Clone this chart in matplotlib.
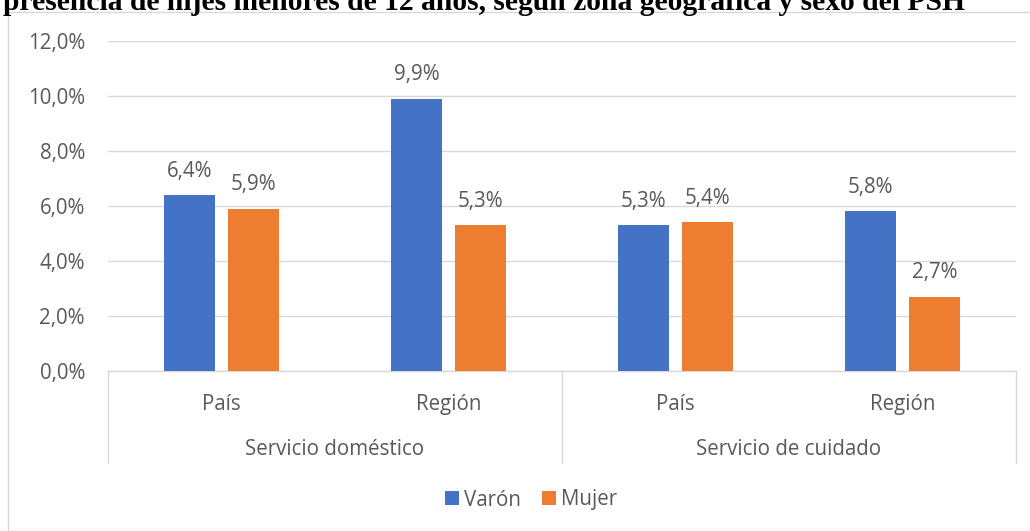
import matplotlib
matplotlib.use('Agg')
import matplotlib.pyplot as plt
import matplotlib.transforms as mtransforms
from matplotlib.patches import Rectangle
from matplotlib.ticker import FuncFormatter

# Datos del gráfico
zonas = ['País', 'Región', 'País', 'Región']
servicios = ['Servicio doméstico', 'Servicio de cuidado']
varon = [6.4, 9.9, 5.3, 5.8]
mujer = [5.9, 5.3, 5.4, 2.7]
titulo = 'presencia de hijes menores de 12 años, según zona geográfica y sexo del PSH'

azul = '#4472C4'
naranja = '#ED7D31'
gris_txt = '#595959'
gris_lin = '#D9D9D9'
fs = 14.8

plt.rcParams['font.family'] = ['Open Sans', 'DejaVu Sans']
W, H = 1030, 531
fig = plt.figure(figsize=(W / 100, H / 100), dpi=100)

# marco del área del gráfico
fig.patches.append(Rectangle((8 / W, -0.1), 1.2, 1 - 12 / H + 0.1, transform=fig.transFigure,
                             fill=False, edgecolor=gris_lin, linewidth=1.0))

# título (cortado arriba, como en el original)
fig.text(3 / W, 1 - 10 / H, titulo, family='Liberation Serif', fontweight='bold',
         fontsize=21.3, ha='left', va='baseline', color='black')

ax = fig.add_axes([108 / W, 160.3 / H, 908 / W, 329.4 / H])
x = list(range(len(zonas)))
ancho = 0.2247
off = 0.141
b1 = ax.bar([i - off for i in x], [v / 100 for v in varon], ancho, color=azul, label='Varón', zorder=3)
b2 = ax.bar([i + off for i in x], [v / 100 for v in mujer], ancho, color=naranja, label='Mujer', zorder=3)

for bars, vals in ((b1, varon), (b2, mujer)):
    for r, v in zip(bars, vals):
        ax.annotate(f'{v:.1f}%'.replace('.', ','), (r.get_x() + r.get_width() / 2, r.get_height()),
                    xytext=(0, 13.3), textcoords='offset points', ha='center', va='baseline',
                    fontsize=fs, color=gris_txt)

ax.set_xlim(-0.5, 3.5)
ax.set_ylim(0, 0.12)
ax.set_yticks([0, 0.02, 0.04, 0.06, 0.08, 0.10, 0.12])
ax.yaxis.set_major_formatter(FuncFormatter(lambda v, p: f'{v * 100:.1f}%'.replace('.', ',')))
ax.grid(axis='y', color=gris_lin, linewidth=1.0, zorder=0)
for s in ('top', 'right', 'left'):
    ax.spines[s].set_visible(False)
ax.spines['bottom'].set_color(gris_lin)
ax.spines['bottom'].set_linewidth(1.0)
ax.tick_params(axis='y', length=0, pad=16.6, labelsize=fs, labelcolor=gris_txt)
ax.set_xticks(x)
ax.set_xticklabels(zonas)
ax.tick_params(axis='x', length=0, pad=16.5, labelsize=fs, labelcolor=gris_txt)

# eje de categorías multinivel
trans = mtransforms.blended_transform_factory(ax.transData, ax.transAxes)
bajo = -92.3 / 329.4
for xs in (-0.5, 1.5, 3.5):
    ax.plot([xs, xs], [0, bajo], transform=trans, color=gris_lin, linewidth=1.0, clip_on=False)
for j, nombre in enumerate(servicios):
    ax.text(2 * j + 0.5, -79 / 329.4, nombre, transform=trans, ha='center', va='center',
            fontsize=fs, color=gris_txt)

fig.legend(handles=[b1, b2], labels=['Varón', 'Mujer'], loc='center', ncol=2,
           bbox_to_anchor=(531 / W, 1 - 500 / H), frameon=False, fontsize=fs,
           labelcolor=gris_txt, handlelength=0.68, handleheight=0.68,
           handletextpad=0.25, columnspacing=1.0)

fig.savefig('out.png', dpi=100)
